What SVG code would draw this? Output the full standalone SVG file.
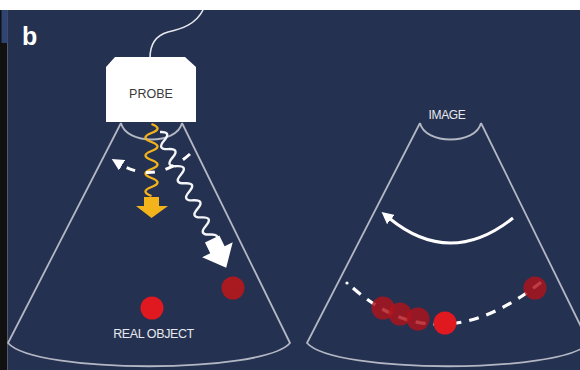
<svg xmlns="http://www.w3.org/2000/svg" width="580" height="370" viewBox="0 0 580 370">
  <defs>
    <style>
      .cone { fill: none; stroke: #b3b7c3; stroke-width: 1.8; stroke-linejoin: round; }
      .lbl { font-family: "Liberation Sans", Arial, sans-serif; text-anchor: middle; }
      .motion { fill: none; stroke: #ffffff; stroke-width: 3; stroke-linecap: butt; }
      .wave-y { fill: none; stroke: #f2b21c; stroke-width: 2.4; }
      .wave-w { fill: none; stroke: #f4f5f8; stroke-width: 2.4; }
      .dot-dark { fill: #b0141b; fill-opacity: 0.82; }
    </style>
    <marker id="head" viewBox="0 0 10 10" refX="2" refY="5" markerWidth="12" markerHeight="12" markerUnits="userSpaceOnUse" orient="auto">
      <path d="M0 0 L10 5 L0 10 Z" fill="#ffffff"/>
    </marker>
    <!-- ultrasound sector outline: transducer cup, two edges, curved far field -->
    <path id="sector" d="M121 123 C126 145 177 145 182 123 M121 123 L8 343 C35 374 263 374 290 343 L182 123"/>
  </defs>

  <!-- frame -->
  <rect x="0" y="0" width="580" height="370" fill="#ffffff"/>
  <rect x="0" y="10" width="7.5" height="360" fill="#111111"/>
  <rect x="1.5" y="10" width="6" height="33" fill="#2e4574"/>
  <rect x="7.5" y="10" width="572.5" height="360" fill="#253151"/>

  <text x="22" y="45" font-family="Liberation Sans, Arial, sans-serif" font-weight="bold" font-size="25" fill="#ffffff">b</text>

  <!-- left panel: probe and real object -->
  <g id="probe-sector">
    <use href="#sector" class="cone"/>
  </g>

  <g id="probe">
    <path d="M203 10 C196 24 182 29 168 32 C154 36 150 46 150 58" fill="none" stroke="#e6e8ee" stroke-width="1.6"/>
    <polygon points="115,57 185,57 196,67 196,122 106,122 106,67" fill="#ffffff"/>
    <text class="lbl" x="151" y="98" font-size="12.5" fill="#3a3a3a">PROBE</text>
  </g>

  <g id="incident-wave">
    <path class="wave-y" d="M151.5 124 q12 4.5 0 9 t0 9 t0 9 t0 9 t0 9 t0 9 t0 9 t0 9"/>
    <polygon points="144,197 159,197 159,206 168,206 151.5,218 136,206 144,206" fill="#f3b41b"/>
  </g>

  <g id="echo-wave" transform="translate(160 132) rotate(-26)">
    <path class="wave-w" d="M0 0 q11 4.75 0 9.5 t0 9.5 t0 9.5 t0 9.5 t0 9.5 t0 9.5 t0 9.5 t0 9.5 t0 9.5 t0 9.5 t0 9.5 t0 9.5 t0 9.5"/>
    <polygon points="-8,119 8,119 8,131 17,131 0,151 -17,131 -8,131" fill="#ffffff"/>
  </g>

  <g id="probe-sweep">
    <path class="motion" d="M190 154 Q155 185 120 164" stroke-dasharray="9 11" marker-end="url(#head)"/>
  </g>

  <g id="echo-object">
    <circle cx="233" cy="288" r="11.5" fill="#a81a1f"/>
  </g>

  <g id="real-object">
    <circle cx="152" cy="308" r="11.5" fill="#e0181f"/>
    <text class="lbl" x="153.5" y="338" font-size="12.5" fill="#e8e9ee" letter-spacing="-0.4">REAL OBJECT</text>
  </g>

  <!-- right panel: displayed image -->
  <g id="image-sector">
    <use href="#sector" class="cone" transform="translate(299 0)"/>
    <text class="lbl" x="447" y="119" font-size="12" fill="#e8e9ee" letter-spacing="-0.3">IMAGE</text>
  </g>

  <g id="image-sweep">
    <path class="motion" d="M513 218 Q450 268 389 218" marker-end="url(#head)"/>
  </g>

  <g id="image-trace">
    <circle cx="347" cy="283" r="1.6" fill="#ffffff"/>
    <path d="M353 288 Q440 365 545 279" fill="none" stroke="#ffffff" stroke-width="3.2" stroke-dasharray="10 8"/>
    <circle class="dot-dark" cx="383" cy="308" r="11.5"/>
    <circle class="dot-dark" cx="400" cy="314" r="11.5"/>
    <circle class="dot-dark" cx="418" cy="319" r="11.5"/>
    <circle class="dot-dark" cx="535" cy="288" r="11.5"/>
    <circle cx="445" cy="323" r="11.5" fill="#e0181f"/>
  </g>
</svg>
